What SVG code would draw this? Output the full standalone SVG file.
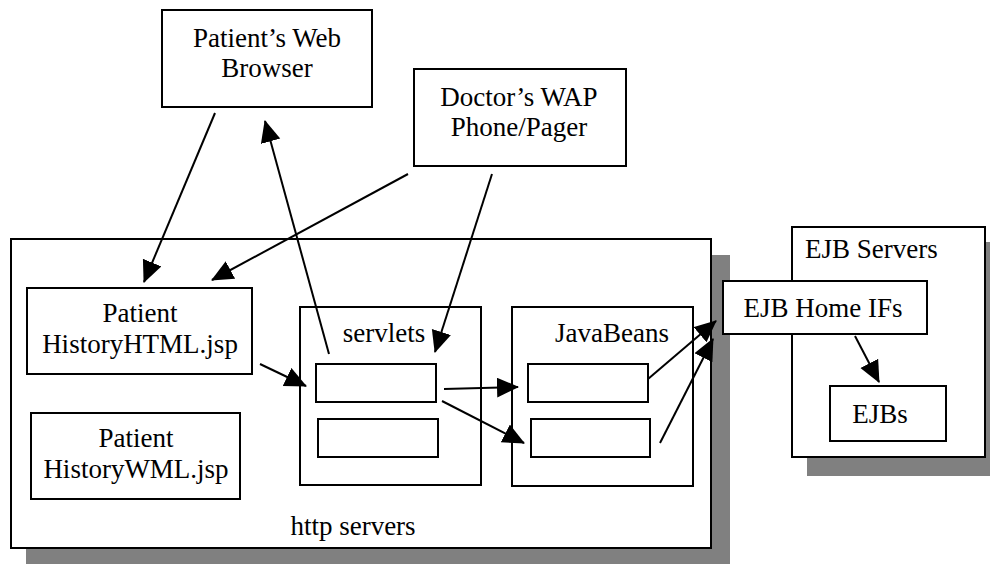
<svg xmlns="http://www.w3.org/2000/svg" width="990" height="564" viewBox="0 0 990 564">
<defs>
<style>
.box{fill:#fff;stroke:#000;stroke-width:2}
.shadow{fill:#808080;stroke:none}
text{font-family:"Liberation Serif","Times New Roman","DejaVu Serif",serif;font-size:27px;fill:#000}
.c{text-anchor:middle}
.conn line{stroke:#000;stroke-width:2;marker-end:url(#ah)}
</style>
<marker id="ah" markerUnits="userSpaceOnUse" markerWidth="24" markerHeight="22" refX="21" refY="10" orient="auto" viewBox="0 0 24 22">
<path d="M0,0 L22,10 L0,20 z" fill="#000"/>
</marker>
</defs>
<rect width="990" height="564" fill="#fff"/>
<rect class="shadow" x="26" y="255" width="704" height="309"/>
<rect class="shadow" x="807" y="242" width="190" height="234"/>
<g id="http-servers">
<rect class="box" x="11" y="239" width="700" height="309"/>
<text class="c" x="353" y="535">http servers</text>
</g>
<g id="ejb-servers">
<rect class="box" x="792" y="227" width="193" height="230"/>
<text x="805" y="258">EJB Servers</text>
</g>
<g id="browser">
<rect class="box" x="162" y="10" width="210" height="97"/>
<text class="c" x="267" y="47">Patient’s Web</text>
<text class="c" x="267" y="77">Browser</text>
</g>
<g id="doctor">
<rect class="box" x="414" y="69" width="212" height="97"/>
<text class="c" x="519" y="106">Doctor’s WAP</text>
<text class="c" x="519" y="136">Phone/Pager</text>
</g>
<g id="html-jsp">
<rect class="box" x="27" y="288" width="225" height="86"/>
<text class="c" x="140" y="322">Patient</text>
<text class="c" x="140" y="353">HistoryHTML.jsp</text>
</g>
<g id="wml-jsp">
<rect class="box" x="31" y="413" width="209" height="86"/>
<text class="c" x="136" y="447">Patient</text>
<text class="c" x="136" y="478">HistoryWML.jsp</text>
</g>
<g id="servlets">
<rect class="box" x="300" y="307" width="181" height="178"/>
<text class="c" x="384" y="342">servlets</text>
<rect class="box" x="316" y="364" width="120" height="38"/>
<rect class="box" x="318" y="419" width="120" height="38"/>
</g>
<g id="javabeans">
<rect class="box" x="512" y="307" width="181" height="179"/>
<text class="c" x="612" y="342">JavaBeans</text>
<rect class="box" x="528" y="364" width="120" height="38"/>
<rect class="box" x="531" y="419" width="119" height="38"/>
</g>
<g id="ejb-home">
<rect class="box" x="723" y="281" width="204" height="53"/>
<text class="c" x="823" y="317">EJB Home IFs</text>
</g>
<g id="ejbs">
<rect class="box" x="830" y="386" width="116" height="55"/>
<text class="c" x="880" y="423">EJBs</text>
</g>
<g class="conn" id="connectors">
<line x1="215" y1="113" x2="144" y2="282"/>
<line x1="408" y1="174" x2="212" y2="280"/>
<line x1="329" y1="354" x2="265" y2="121"/>
<line x1="492" y1="174" x2="435" y2="352"/>
<line x1="260" y1="364" x2="306" y2="386"/>
<line x1="444" y1="389" x2="518" y2="387"/>
<line x1="442" y1="401" x2="524" y2="443"/>
<line x1="648" y1="379" x2="716" y2="321"/>
<line x1="660" y1="443" x2="713" y2="339"/>
<line x1="855" y1="336" x2="879" y2="382"/>
</g>
</svg>
